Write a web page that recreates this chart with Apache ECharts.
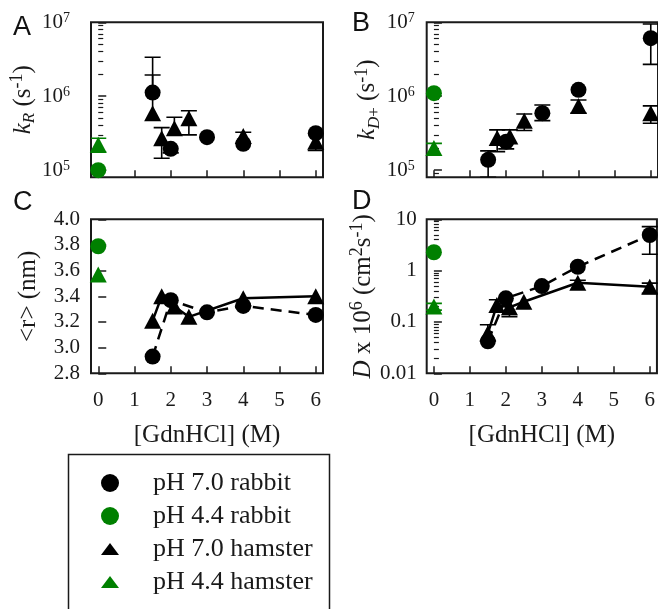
<!DOCTYPE html>
<html><head><meta charset="utf-8">
<script src="https://cdn.jsdelivr.net/npm/echarts@6/dist/echarts.min.js"></script>
<style>html,body{margin:0;padding:0;background:#fff}#c{width:658px;height:609px}</style>
</head><body><div id="c"></div>
<script>
// ---------------- data ----------------
const seriesNames = ['pH 7.0 rabbit', 'pH 4.4 rabbit', 'pH 7.0 hamster', 'pH 4.4 hamster'];
const xTickValues = [0, 1, 2, 3, 4, 5, 6];
const xAxisTitle = '[GdnHCl] (M)';

// Panel A: k_R (s^-1)
const aRabbit7X  = [1.5, 2, 3, 4, 6];
const aRabbit7Y  = [1.12e6, 1.94e5, 2.79e5, 2.27e5, 3.16e5];
const aRabbit7Lo = [null, 1.71e5, null, null, null];
const aRabbit7Hi = [3.37e6, null, null, null, null];
const aHamster7X  = [1.5, 1.75, 2.1, 2.5, 4, 6];
const aHamster7Y  = [5.9e5, 2.7e5, 3.7e5, 5.05e5, 2.9e5, 2.43e5];
const aHamster7Lo = [null, 1.45e5, null, 3.0e5, null, 1.84e5];
const aHamster7Hi = [1.94e6, 3.76e5, 5.2e5, 6.37e5, 3.26e5, null];
const aRabbit44X = [0], aRabbit44Y = [1.0e5];
const aHamster44X = [0], aHamster44Y = [2.2e5], aHamster44Lo = [1.75e5], aHamster44Hi = [2.7e5];

// Panel B: k_D+ (s^-1)
const bRabbit7X  = [1.5, 2, 3, 4, 6];
const bRabbit7Y  = [1.38e5, 2.43e5, 5.9e5, 1.22e6, 6.1e6];
const bRabbit7Lo = [8.0e4, 1.94e5, 4.67e5, null, 2.7e6];
const bRabbit7Hi = [1.82e5, null, 7.6e5, null, 9.5e6];
const bHamster7X  = [1.75, 2.1, 2.5, 4, 6];
const bHamster7Y  = [2.73e5, 2.85e5, 4.67e5, 7.4e5, 5.9e5];
const bHamster7Lo = [1.78e5, null, 3.43e5, 5.9e5, 4.3e5];
const bHamster7Hi = [3.5e5, 3.5e5, 5.75e5, 8.9e5, 7.4e5];
const bRabbit44X = [0], bRabbit44Y = [1.1e6];
const bHamster44X = [0], bHamster44Y = [2.0e5], bHamster44Lo = [null], bHamster44Hi = [2.3e5];

// Panel C: <r> (nm)
const cRabbit7X  = [1.5, 2, 3, 4, 6];
const cRabbit7Y  = [2.93, 3.37, 3.275, 3.325, 3.255];
const cHamster7X = [1.5, 1.75, 2.1, 2.5, 4, 6];
const cHamster7Y = [3.21, 3.40, 3.32, 3.24, 3.385, 3.40];
const cRabbit44X = [0], cRabbit44Y = [3.79];
const cHamster44X = [0], cHamster44Y = [3.57];

// Panel D: D x 10^6 (cm^2 s^-1)
const dRabbit7X  = [1.5, 2, 3, 4, 6];
const dRabbit7Y  = [0.042, 0.289, 0.50, 1.19, 4.94];
const dRabbit7Lo = [null, null, null, null, 2.08];
const dRabbit7Hi = [null, null, null, null, 7.2];
const dHamster7X  = [1.5, 1.75, 2.1, 2.5, 4, 6];
const dHamster7Y  = [0.060, 0.214, 0.193, 0.248, 0.58, 0.486];
const dHamster7Lo = [null, null, 0.127, null, null, 0.36];
const dHamster7Hi = [0.088, 0.27, null, null, 0.65, 0.57];
const dRabbit44X = [0], dRabbit44Y = [2.28];
const dHamster44X = [0], dHamster44Y = [0.2], dHamster44Lo = [0.17], dHamster44Hi = [0.23];

// axis ticks
const kMajor = [1e5, 1e6, 1e7];
const dMajor = [0.01, 0.1, 1, 10];

// ---------------- styling ----------------
const SERIF = 'Liberation Serif';
const SANS = 'Liberation Sans';
const INK = '#1a1a1a';
const GREEN = '#008000';
const BLACK = '#000000';
const CIRCLE_SIZE = 16;
const TRI_SIZE = [17, 16];

const zip = (xs, ys) => xs.map((x, i) => [x, ys[i]]);
const zipErr = (xs, ys, lo, hi) => xs.map((x, i) => [x, ys[i], lo[i] == null ? NaN : lo[i], hi[i] == null ? NaN : hi[i]]);

const gridBoxes = [
  { left: 91, top: 22.3, width: 232, height: 155 },
  { left: 426.7, top: 22.3, width: 232.5, height: 155 },
  { left: 91, top: 219.3, width: 232, height: 154 },
  { left: 426.7, top: 219.3, width: 232.5, height: 154 }
];
const grids = gridBoxes.map(g => Object.assign({ show: true, borderColor: INK, borderWidth: 2, backgroundColor: 'transparent' }, g));

function xAxis(gi, withLabels) {
  return {
    type: 'value', gridIndex: gi, min: -0.2, max: 6.2,
    axisLine: { show: false },
    splitLine: { show: false },
    axisTick: { show: true, inside: true, length: 7, customValues: xTickValues, lineStyle: { color: INK, width: 1.5 } },
    axisLabel: { show: withLabels, customValues: xTickValues, margin: 17, color: INK, fontFamily: SERIF, fontSize: 21 },
    name: withLabels ? xAxisTitle : '',
    nameLocation: 'middle', nameGap: 50,
    nameTextStyle: { fontFamily: SERIF, fontSize: 25, color: INK }
  };
}

const supRich = {
  sup: { fontFamily: SERIF, fontSize: 14, color: INK, verticalAlign: 'top', lineHeight: 14 }
};
const nameRich = {
  n:   { fontFamily: SERIF, fontSize: 25, color: INK, lineHeight: 30 },
  i:   { fontFamily: SERIF, fontSize: 25, color: INK, fontStyle: 'italic', lineHeight: 30 },
  sub: { fontFamily: SERIF, fontSize: 17, color: INK, fontStyle: 'italic', verticalAlign: 'bottom', lineHeight: 17 },
  subn:{ fontFamily: SERIF, fontSize: 17, color: INK, verticalAlign: 'bottom', lineHeight: 17 },
  sup: { fontFamily: SERIF, fontSize: 18, color: INK, verticalAlign: 'top', lineHeight: 18 }
};

function logMain(gi, min, max, major, fmt, margin, name, gap) {
  return {
    type: 'log', gridIndex: gi, min: min, max: max, position: 'left',
    axisLine: { show: false }, splitLine: { show: false },
    axisTick: { show: true, inside: true, length: 8, customValues: major, lineStyle: { color: INK, width: 1.5 } },
    minorTick: { show: true, splitNumber: 9, length: 5, lineStyle: { color: INK, width: 1.2 } },
    minorSplitLine: { show: false },
    axisLabel: { show: true, customValues: major, margin: margin, color: INK, fontFamily: SERIF, fontSize: 21, formatter: fmt, rich: supRich },
    name: name, nameLocation: 'middle', nameRotate: 90, nameGap: gap,
    nameTextStyle: { rich: nameRich, fontFamily: SERIF, fontSize: 25, color: INK }
  };
}
const powFmt = v => '10{sup|' + Math.round(Math.log10(v)) + '}';
const decFmt = v => String(v);

const yAxes = [
  logMain(0, 8e4, 1e7, kMajor, powFmt, 21, '{i|k}{sub|R}{n| (s}{sup|-1}{n|)}', 48),
  logMain(1, 8e4, 1e7, kMajor, powFmt, 12, '{i|k}{sub|D}{subn|+}{n| (s}{sup|-1}{n|)}', 42),
  {
    type: 'value', gridIndex: 2, min: 2.8, max: 4.0, interval: 0.2,
    axisLine: { show: false }, splitLine: { show: false },
    axisTick: { show: true, inside: true, length: 8, lineStyle: { color: INK, width: 1.5 } },
    axisLabel: { margin: 11, color: INK, fontFamily: SERIF, fontSize: 21, formatter: v => v.toFixed(1) },
    name: '<r> (nm)', nameLocation: 'middle', nameRotate: 90, nameGap: 50,
    nameTextStyle: { fontFamily: SERIF, fontSize: 25, color: INK }
  },
  logMain(3, 0.01, 10, dMajor, decFmt, 10, '{i|D}{n| x 10}{sup|6}{n| (cm}{sup|2}{n|s}{sup|-1}{n|)}', 44)
];

function scatter(name, xi, yi, data, symbol, color) {
  return {
    name: name, type: 'scatter', xAxisIndex: xi, yAxisIndex: yi, data: data,
    symbol: symbol, symbolSize: symbol === 'circle' ? CIRCLE_SIZE : TRI_SIZE,
    itemStyle: { color: color, opacity: 1 }, z: 3, silent: true
  };
}
function line(name, xi, yi, data, symbol, dashed) {
  return {
    name: name, type: 'line', xAxisIndex: xi, yAxisIndex: yi, data: data,
    symbol: symbol, symbolSize: symbol === 'circle' ? CIRCLE_SIZE : TRI_SIZE, showSymbol: true,
    itemStyle: { color: BLACK, borderWidth: 0 },
    lineStyle: { color: BLACK, width: 2.5, type: dashed ? [11, 7] : 'solid' },
    z: 3, silent: true
  };
}
function errBars(xi, yi, data, color) {
  return {
    type: 'custom', xAxisIndex: xi, yAxisIndex: yi, data: data, z: 2, silent: true, clip: true,
    encode: { x: 0, y: 1 },
    renderItem: function (params, api) {
      const x = api.value(0), y = api.value(1), lo = api.value(2), hi = api.value(3);
      const p = api.coord([x, y]);
      const children = [];
      const st = { stroke: color, lineWidth: 1.6 };
      const add = (v) => {
        if (v == null || isNaN(v)) return;
        const q = api.coord([x, v]);
        children.push({ type: 'line', shape: { x1: p[0], y1: p[1], x2: q[0], y2: q[1] }, style: st });
        children.push({ type: 'line', shape: { x1: q[0] - 8, y1: q[1], x2: q[0] + 8, y2: q[1] }, style: st });
      };
      add(lo); add(hi);
      return { type: 'group', children: children };
    }
  };
}

const series = [
  // Panel A
  scatter(seriesNames[0], 0, 0, zip(aRabbit7X, aRabbit7Y), 'circle', BLACK),
  scatter(seriesNames[1], 0, 0, zip(aRabbit44X, aRabbit44Y), 'circle', GREEN),
  scatter(seriesNames[2], 0, 0, zip(aHamster7X, aHamster7Y), 'triangle', BLACK),
  scatter(seriesNames[3], 0, 0, zip(aHamster44X, aHamster44Y), 'triangle', GREEN),
  errBars(0, 0, zipErr(aRabbit7X, aRabbit7Y, aRabbit7Lo, aRabbit7Hi), BLACK),
  errBars(0, 0, zipErr(aHamster7X, aHamster7Y, aHamster7Lo, aHamster7Hi), BLACK),
  errBars(0, 0, zipErr(aHamster44X, aHamster44Y, aHamster44Lo, aHamster44Hi), GREEN),
  // Panel B
  scatter(seriesNames[0], 1, 1, zip(bRabbit7X, bRabbit7Y), 'circle', BLACK),
  scatter(seriesNames[1], 1, 1, zip(bRabbit44X, bRabbit44Y), 'circle', GREEN),
  scatter(seriesNames[2], 1, 1, zip(bHamster7X, bHamster7Y), 'triangle', BLACK),
  scatter(seriesNames[3], 1, 1, zip(bHamster44X, bHamster44Y), 'triangle', GREEN),
  errBars(1, 1, zipErr(bRabbit7X, bRabbit7Y, bRabbit7Lo, bRabbit7Hi), BLACK),
  errBars(1, 1, zipErr(bHamster7X, bHamster7Y, bHamster7Lo, bHamster7Hi), BLACK),
  errBars(1, 1, zipErr(bHamster44X, bHamster44Y, bHamster44Lo, bHamster44Hi), GREEN),
  // Panel C
  line(seriesNames[0], 2, 2, zip(cRabbit7X, cRabbit7Y), 'circle', true),
  line(seriesNames[2], 2, 2, zip(cHamster7X, cHamster7Y), 'triangle', false),
  scatter(seriesNames[1], 2, 2, zip(cRabbit44X, cRabbit44Y), 'circle', GREEN),
  scatter(seriesNames[3], 2, 2, zip(cHamster44X, cHamster44Y), 'triangle', GREEN),
  // Panel D
  line(seriesNames[0], 3, 3, zip(dRabbit7X, dRabbit7Y), 'circle', true),
  line(seriesNames[2], 3, 3, zip(dHamster7X, dHamster7Y), 'triangle', false),
  scatter(seriesNames[1], 3, 3, zip(dRabbit44X, dRabbit44Y), 'circle', GREEN),
  scatter(seriesNames[3], 3, 3, zip(dHamster44X, dHamster44Y), 'triangle', GREEN),
  errBars(3, 3, zipErr(dRabbit7X, dRabbit7Y, dRabbit7Lo, dRabbit7Hi), BLACK),
  errBars(3, 3, zipErr(dHamster7X, dHamster7Y, dHamster7Lo, dHamster7Hi), BLACK),
  errBars(3, 3, zipErr(dHamster44X, dHamster44Y, dHamster44Lo, dHamster44Hi), GREEN)
];

const panelTitle = (t, left, top) => ({
  text: t, left: left, top: top, padding: 0,
  textStyle: { fontFamily: SANS, fontSize: 27, fontWeight: 'normal', color: '#111' }
});

const option = {
  animation: false,
  backgroundColor: '#ffffff',
  title: [panelTitle('A', 13, 14), panelTitle('B', 352, 10), panelTitle('C', 13, 189), panelTitle('D', 352, 188)],
  grid: grids,
  xAxis: [xAxis(0, false), xAxis(1, false), xAxis(2, true), xAxis(3, true)],
  yAxis: yAxes,
  legend: {
    left: 101, top: 470, orient: 'vertical', padding: 0,
    itemWidth: 18, itemHeight: 18, itemGap: 7, selectedMode: false,
    textStyle: { fontFamily: SERIF, fontSize: 26, color: INK, lineHeight: 26, padding: [0, 0, 0, 29] },
    data: [
      { name: seriesNames[0], icon: 'circle', itemStyle: { color: BLACK } },
      { name: seriesNames[1], icon: 'circle', itemStyle: { color: GREEN } },
      { name: seriesNames[2], icon: 'path://M0,12L9,0L18,12Z', itemStyle: { color: BLACK } },
      { name: seriesNames[3], icon: 'path://M0,12L9,0L18,12Z', itemStyle: { color: GREEN } }
    ]
  },
  graphic: [
    { type: 'rect', left: 66, top: 452, shape: { width: 261, height: 200 }, style: { fill: 'none', stroke: INK, lineWidth: 1.5 }, silent: true }
  ],
  series: series
};

const chart = echarts.init(document.getElementById('c'), null, { renderer: 'canvas' });
chart.setOption(option);
</script>
</body></html>
